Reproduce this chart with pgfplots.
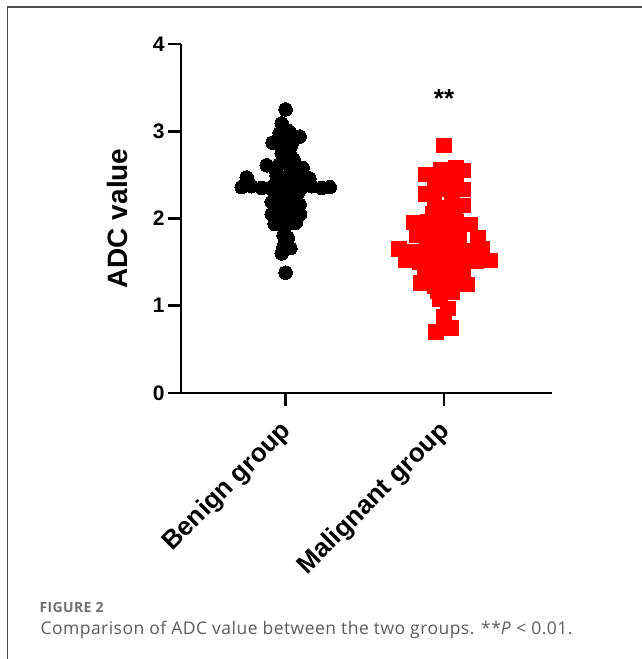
\documentclass[border=0pt]{standalone}
\usepackage{fontspec}
\setmainfont{Liberation Sans}
\newfontfamily\capfont[LetterSpace=2.7]{Open Sans}
\usepackage{pgfplots}
\usepackage{pgfplotstable}
\pgfplotsset{compat=1.18}
\definecolor{capgray}{HTML}{5C5C5C}
\definecolor{figgray}{HTML}{707070}
\definecolor{framegray}{HTML}{4D4D4D}
\definecolor{mred}{HTML}{FF0000}

\pgfplotstableread{
x y
0.000 3.25
-0.025 3.09
-0.038 2.98
0.020 3.00
0.088 2.94
-0.082 2.87
0.000 2.89
0.030 2.82
-0.040 2.86
0.050 2.90
-0.025 2.75
0.030 2.72
0.050 2.68
-0.120 2.61
-0.040 2.62
0.040 2.60
0.107 2.58
-0.060 2.55
0.060 2.53
-0.057 2.49
0.020 2.50
0.090 2.48
0.150 2.46
-0.246 2.47
-0.020 2.43
0.050 2.42
-0.278 2.36
-0.215 2.37
-0.152 2.35
-0.088 2.36
-0.025 2.38
0.038 2.34
0.101 2.36
0.164 2.37
0.227 2.35
0.278 2.36
-0.070 2.29
0.010 2.28
0.080 2.30
-0.050 2.24
0.050 2.26
-0.088 2.19
-0.025 2.18
0.038 2.21
0.088 2.16
-0.060 2.12
0.060 2.12
-0.010 2.11
-0.088 2.05
-0.025 2.07
0.038 2.03
0.090 2.05
0.000 2.00
-0.070 1.94
0.000 1.92
0.063 1.95
-0.013 1.81
0.013 1.78
-0.013 1.68
0.030 1.66
-0.025 1.60
0.000 1.38
}\benign

\pgfplotstableread{
x y
1.000 2.84
0.886 2.50
0.981 2.56
1.076 2.58
1.120 2.55
1.019 2.47
0.960 2.45
1.080 2.40
0.886 2.28
0.943 2.35
1.019 2.33
1.120 2.33
0.940 2.22
1.050 2.25
0.975 2.13
1.069 2.12
1.120 2.15
0.930 2.06
1.060 2.02
0.810 1.95
0.899 1.97
0.987 1.94
1.076 1.96
1.164 1.93
0.987 2.04
0.950 1.88
1.060 1.88
0.829 1.81
0.918 1.83
1.006 1.79
1.095 1.80
1.215 1.78
0.950 1.72
1.050 1.73
0.716 1.65
0.804 1.62
0.893 1.66
0.981 1.62
1.069 1.66
1.158 1.63
1.240 1.66
0.760 1.52
0.848 1.50
0.937 1.55
1.025 1.50
1.114 1.54
1.202 1.51
1.291 1.52
0.920 1.45
1.000 1.46
1.090 1.48
0.880 1.41
0.968 1.38
1.057 1.42
1.120 1.39
0.900 1.32
1.000 1.33
1.080 1.31
0.855 1.26
0.943 1.22
1.032 1.25
1.145 1.24
0.960 1.16
1.050 1.15
0.975 1.07
1.025 0.97
1.000 0.87
0.949 0.70
1.044 0.745
}\malignant

\begin{document}
\begin{tikzpicture}
\path[use as bounding box] (0pt,0pt) rectangle (642pt,659pt);
\draw[framegray, line width=1.2pt] (7.4pt,0pt) -- (7.4pt,652pt) -- (642pt,652pt);
\begin{axis}[
  at={(181pt,266pt)}, anchor=south west,
  scale only axis, width=370.7pt, height=349pt,
  xmin=-0.661, xmax=1.68, ymin=0, ymax=4,
  axis lines*=left,
  axis line style={line width=2.8pt, black},
  tick align=outside,
  major tick length=13pt,
  tick style={line width=2.8pt, black},
  xtick={0,1},
  xticklabels={Benign group, Malignant group},
  ytick={0,1,2,3,4},
  yticklabels={0,1,2,3,4},
  yticklabel style={font=\fontsize{21}{21}\selectfont\bfseries},
  xticklabel style={font=\fontsize{26}{26}\selectfont\bfseries, xshift=4pt, yshift=-19pt, rotate=45, anchor=east},
  ylabel={ADC value},
  ylabel style={font=\fontsize{28}{28}\selectfont\bfseries, at={(axis description cs:-0.170,0.5)}, anchor=center},
  clip=false,
]
\addplot[only marks, color=black, mark=*, mark size=6.8pt, mark options={fill=black, draw=black, line width=0pt}] table[x=x, y=y] {\benign};
\addplot[only marks, color=mred, mark=square*, mark size=7.1pt, mark options={fill=mred, draw=mred, line width=0pt}] table[x=x, y=y] {\malignant};
\node[font=\fontsize{26}{26}\selectfont\bfseries] at (axis cs:1,3.38) {**};
\end{axis}
\node[anchor=base west, font=\capfont\bfseries\fontsize{14}{14}\selectfont, text=figgray] at (36pt,46pt) {FIGURE 2};
\node[anchor=base west, font=\capfont\fontsize{17.5}{17.5}\selectfont, text=capgray] at (37pt,24pt) {Comparison of ADC value between the two groups. **\textit{P} < 0.01.};
\end{tikzpicture}
\end{document}
